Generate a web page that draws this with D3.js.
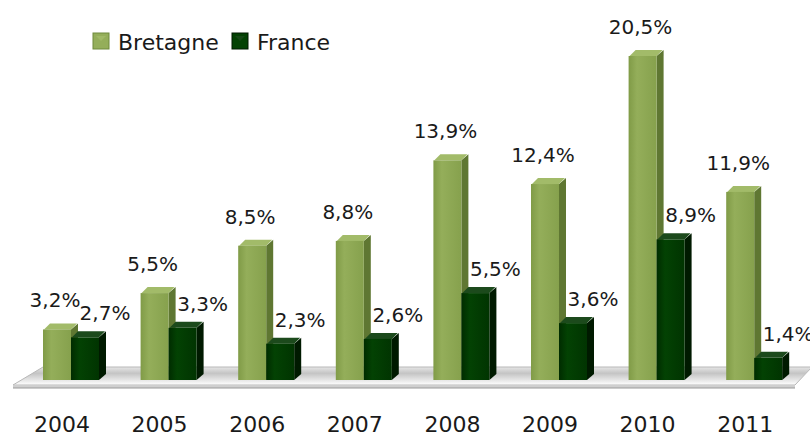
<!DOCTYPE html>
<html>
<head>
<meta charset="utf-8">
<script src="https://cdn.jsdelivr.net/npm/d3@7"></script>
<style>
  body { margin: 0; background: #fff; }
  svg { display: block; font-family: "DejaVu Sans", Verdana, sans-serif; }
</style>
</head>
<body>
<div id="holder"></div>
<script>
var years = ["2004", "2005", "2006", "2007", "2008", "2009", "2010", "2011"];
var seriesNames = ["Bretagne", "France"];
var bretagne = [3.2, 5.5, 8.5, 8.8, 13.9, 12.4, 20.5, 11.9];
var france = [2.7, 3.3, 2.3, 2.6, 5.5, 3.6, 8.9, 1.4];

var width = 810, height = 436;
var depthX = 7, depthY = 6;

var svg = d3.select('#holder').append('svg').attr('width', width).attr('height', height);
var defs = svg.append('defs');

var colors = {
  Bretagne: { front: ['#809b47', '#94ae5a', '#86a14d'], side: '#5f7732', top: '#a2bb69' },
  France:   { front: ['#002c00', '#034203', '#013401'], side: '#001a00', top: '#1c4a1c' }
};

seriesNames.forEach(function(s) {
  var g = defs.append('linearGradient').attr('id', 'front-' + s).attr('x1', 0).attr('x2', 1).attr('y1', 0).attr('y2', 0);
  g.append('stop').attr('offset', '0%').attr('stop-color', colors[s].front[0]);
  g.append('stop').attr('offset', '30%').attr('stop-color', colors[s].front[1]);
  g.append('stop').attr('offset', '100%').attr('stop-color', colors[s].front[2]);
});

var floorGrad = defs.append('linearGradient').attr('id', 'floor').attr('x1', 0).attr('x2', 0).attr('y1', 0).attr('y2', 1);
floorGrad.append('stop').attr('offset', '0%').attr('stop-color', '#e6e6e6');
floorGrad.append('stop').attr('offset', '35%').attr('stop-color', '#c4c4c4');
floorGrad.append('stop').attr('offset', '100%').attr('stop-color', '#ffffff');

var x = d3.scaleBand().domain(years).range([22.2, 803]);
var xs = d3.scaleBand().domain(seriesNames).range([-28, 28]);
var y = d3.scaleLinear().domain([0, 20.5]).range([380, 56]);

var fr = d3.formatLocale({ decimal: ",", thousands: " ", grouping: [3], currency: ["", "€"] }).format(".1f");

// floor
svg.append('polygon')
  .attr('points', [[13, 385], [43, 367], [812, 367], [795, 385]].join(' '))
  .attr('fill', 'url(#floor)')
  .attr('stroke', '#b8b8b8').attr('stroke-width', 1);
svg.append('rect').attr('x', 13).attr('y', 385).attr('width', 782).attr('height', 3).attr('fill', '#cfcfcf');
svg.append('line').attr('x1', 13).attr('x2', 795).attr('y1', 388).attr('y2', 388).attr('stroke', '#9a9a9a');

// bars
var data = [];
years.forEach(function(yr, i) {
  data.push({ year: yr, s: 'Bretagne', v: bretagne[i] });
  data.push({ year: yr, s: 'France', v: france[i] });
});

var bars = svg.append('g').selectAll('g').data(data).enter().append('g');
bars.each(function(d) {
  var g = d3.select(this);
  var cx = x(d.year) + x.bandwidth() / 2;
  var x0 = cx + xs(d.s), w = xs.bandwidth();
  var yt = y(d.v), yb = y(0);
  var c = colors[d.s];
  g.append('polygon')
    .attr('points', [[x0 + w, yt], [x0 + w + depthX, yt - depthY], [x0 + w + depthX, yb - depthY], [x0 + w, yb]].join(' '))
    .attr('fill', c.side);
  g.append('polygon')
    .attr('points', [[x0 + 1, yt], [x0 + depthX, yt - depthY], [x0 + w + depthX - 1, yt - depthY], [x0 + w, yt]].join(' '))
    .attr('fill', c.top);
  g.append('rect')
    .attr('x', x0).attr('y', yt).attr('width', w).attr('height', yb - yt)
    .attr('fill', 'url(#front-' + d.s + ')');
});

// value labels
svg.append('g').selectAll('text').data(data).enter().append('text')
  .attr('x', function(d) {
    var cx = x(d.year) + x.bandwidth() / 2 + xs(d.s) + xs.bandwidth() / 2;
    return d.s === 'Bretagne' ? cx - 2 : cx + 20;
  })
  .attr('y', function(d) { return d.s === 'Bretagne' ? y(d.v) - 22 : y(d.v) - 17; })
  .attr('text-anchor', 'middle')
  .attr('font-size', 20)
  .attr('fill', '#1a1a1a')
  .text(function(d) { return fr(d.v) + '%'; });

// year axis
var axis = svg.append('g').attr('transform', 'translate(-9,432)')
  .call(d3.axisBottom(x).tickSize(0));
axis.select('.domain').remove();
axis.selectAll('text').attr('y', 0).attr('dy', 0)
  .attr('font-size', 22).attr('font-family', '"DejaVu Sans", Verdana, sans-serif').attr('fill', '#1a1a1a');

// legend
var legend = svg.append('g');
var legendX = [93, 232];
seriesNames.forEach(function(s, i) {
  var lg = legend.append('g').attr('transform', 'translate(' + legendX[i] + ',33)');
  lg.append('rect').attr('width', 16).attr('height', 16).attr('fill', colors[s].front[1])
    .attr('stroke', s === 'Bretagne' ? '#6f8a3c' : '#001a00');
  lg.append('polygon').attr('points', '3,3 8,8 13,3').attr('fill', colors[s].top).attr('opacity', 0.8);
  lg.append('text').attr('x', 25).attr('y', 17)
    .attr('font-size', 22).attr('fill', '#1a1a1a').text(s);
});
</script>
</body>
</html>
